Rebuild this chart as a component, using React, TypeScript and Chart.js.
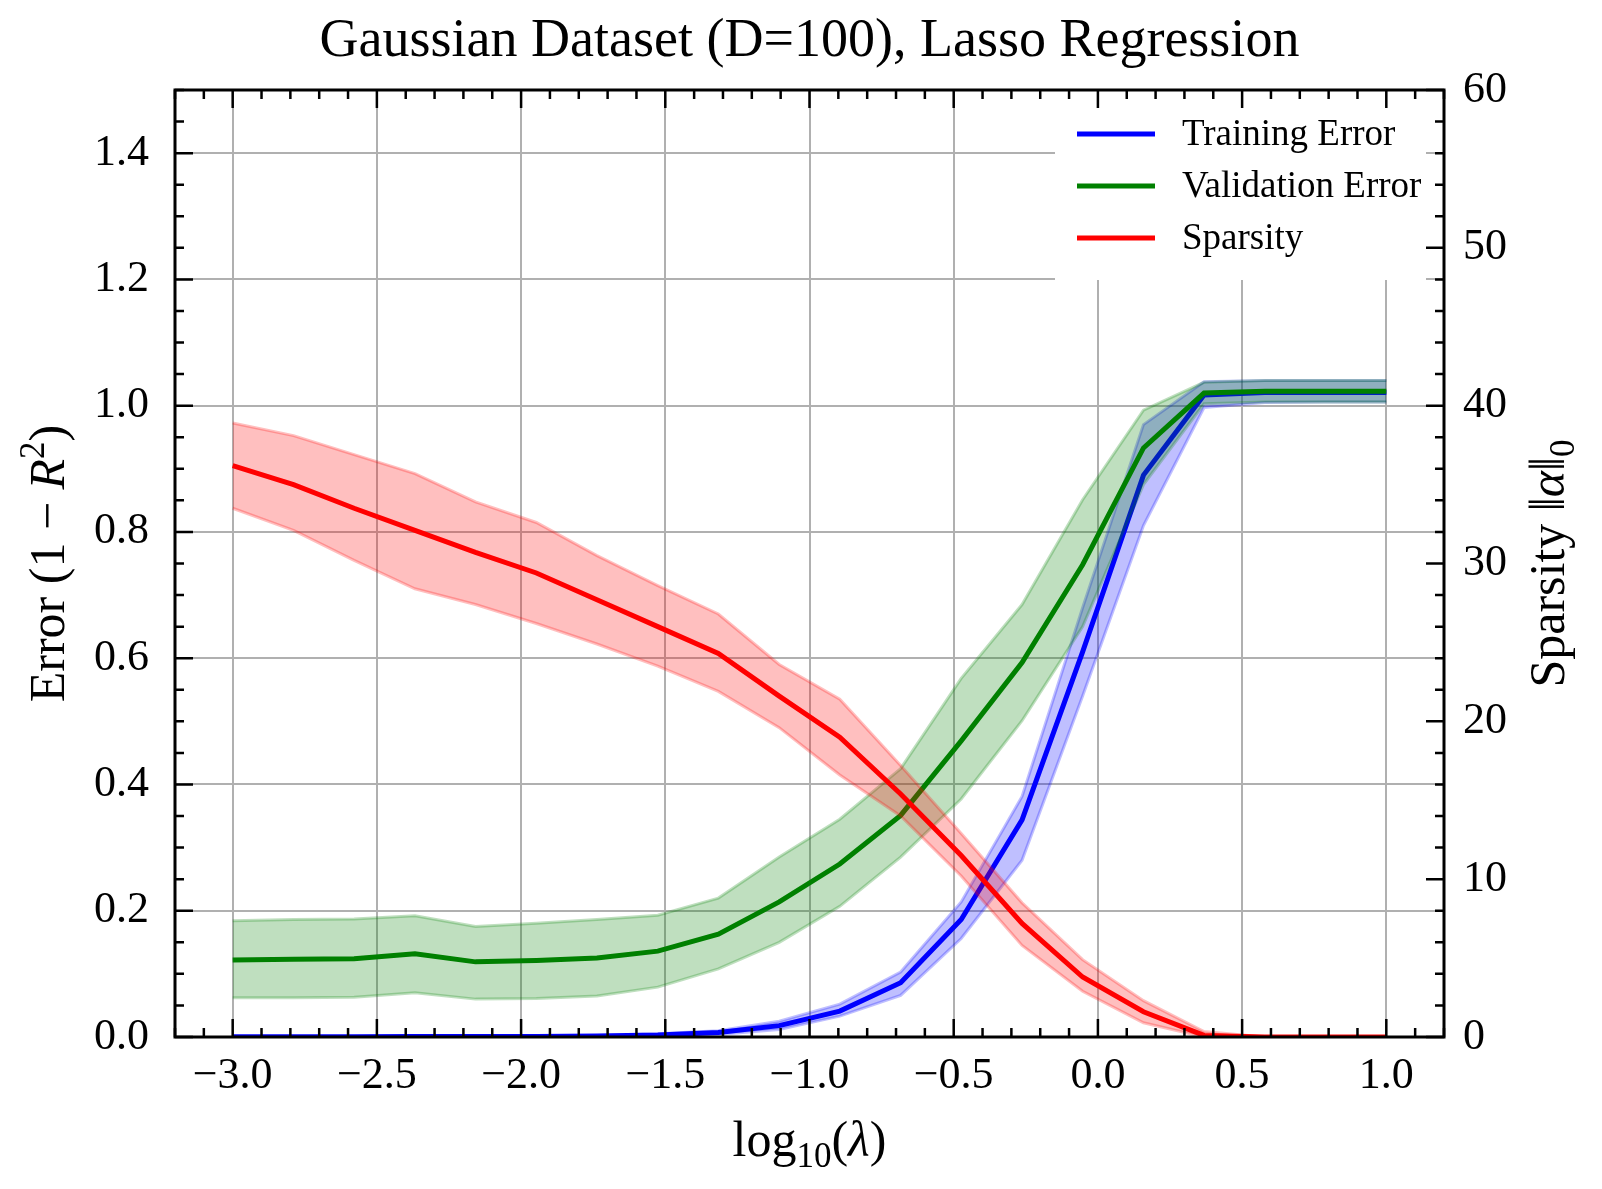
import { useEffect, useRef } from 'react';
import { Chart, ChartConfiguration, registerables } from 'chart.js';

Chart.register(...registerables);

// log10(lambda) grid (20 points)
const logLambda = [
  -3.0, -2.789, -2.579, -2.368, -2.158, -1.947, -1.737, -1.526, -1.316, -1.105,
  -0.895, -0.684, -0.474, -0.263, -0.053, 0.158, 0.368, 0.579, 0.789, 1.0,
];

// Training error (1 - R^2): mean and band
const trainMean = [0.0004, 0.0004, 0.0005, 0.0006, 0.0007, 0.0009, 0.0015, 0.003, 0.007, 0.018, 0.041, 0.086, 0.186, 0.344, 0.61, 0.89, 1.017, 1.021, 1.021, 1.021];
const trainUpper = [0.0008, 0.0008, 0.0009, 0.001, 0.0012, 0.0015, 0.0025, 0.005, 0.01, 0.025, 0.052, 0.103, 0.214, 0.381, 0.68, 0.97, 1.038, 1.04, 1.04, 1.04];
const trainLower = [0.0001, 0.0001, 0.0002, 0.0002, 0.0003, 0.0004, 0.0007, 0.0015, 0.004, 0.012, 0.033, 0.066, 0.156, 0.28, 0.54, 0.81, 0.997, 1.005, 1.006, 1.006];

// Validation error
const valMean = [0.122, 0.123, 0.124, 0.132, 0.119, 0.121, 0.125, 0.136, 0.163, 0.214, 0.274, 0.351, 0.469, 0.593, 0.748, 0.933, 1.02, 1.023, 1.023, 1.023];
const valUpper = [0.184, 0.186, 0.187, 0.192, 0.175, 0.18, 0.186, 0.193, 0.22, 0.285, 0.345, 0.425, 0.568, 0.685, 0.851, 0.993, 1.037, 1.04, 1.04, 1.04];
const valLower = [0.062, 0.062, 0.063, 0.07, 0.06, 0.061, 0.065, 0.079, 0.108, 0.15, 0.207, 0.285, 0.377, 0.501, 0.65, 0.875, 1.003, 1.006, 1.006, 1.006];

// Sparsity ||alpha||_0 (right axis)
const sparsityMean = [36.2, 35.0, 33.5, 32.1, 30.7, 29.4, 27.7, 26.0, 24.3, 21.6, 19.0, 15.4, 11.5, 7.2, 3.8, 1.6, 0.1, 0, 0, 0];
const sparsityUpper = [38.9, 38.1, 36.9, 35.7, 33.9, 32.6, 30.5, 28.6, 26.8, 23.6, 21.4, 17.2, 12.9, 8.5, 4.9, 2.3, 0.35, 0, 0, 0];
const sparsityLower = [33.5, 32.1, 30.2, 28.4, 27.4, 26.2, 24.9, 23.5, 21.9, 19.6, 16.6, 14.0, 10.2, 5.8, 2.9, 0.9, 0, 0, 0, 0];

const legendLabels = ['Training Error', 'Validation Error', 'Sparsity'];
const legendColors = ['#0000ff', '#008000', '#ff0000'];

const SERIF = '"Liberation Serif", "Times New Roman", "DejaVu Serif", serif';

const pts = (ys: number[]) => logLambda.map((x, i) => ({ x, y: ys[i] }));
const fmt = (v: number, d: number) => Number(v).toFixed(d).replace('-', '\u2212');

type Part = { t: string; size: number; italic?: boolean; dy?: number };

function drawRich(ctx: CanvasRenderingContext2D, parts: Part[], x: number, y: number, rot: number) {
  ctx.save();
  ctx.translate(x, y);
  ctx.rotate(rot);
  ctx.textBaseline = 'alphabetic';
  ctx.textAlign = 'left';
  ctx.fillStyle = '#000';
  const fontOf = (p: Part) => `${p.italic ? 'italic ' : ''}${p.size}px ${SERIF}`;
  let total = 0;
  for (const p of parts) {
    ctx.font = fontOf(p);
    total += ctx.measureText(p.t).width;
  }
  let cx = -total / 2;
  for (const p of parts) {
    ctx.font = fontOf(p);
    ctx.fillText(p.t, cx, p.dy || 0);
    cx += ctx.measureText(p.t).width;
  }
  ctx.restore();
}

// frame, inward ticks, axis titles and legend (matplotlib look)
const decorPlugin = {
  id: 'decor',
  afterDatasetsDraw(chart: Chart) {
    const ctx = chart.ctx;
    const { top, right } = chart.chartArea;
    const boxW = 371;
    const boxH = 174;
    const bx = right - 18 - boxW;
    const by = top + 16;
    ctx.save();
    ctx.fillStyle = '#ffffff';
    ctx.fillRect(bx, by, boxW, boxH);
    legendLabels.forEach((label, i) => {
      const ly = by + 28 + i * 52;
      ctx.strokeStyle = legendColors[i];
      ctx.lineWidth = 5;
      ctx.beginPath();
      ctx.moveTo(bx + 22, ly);
      ctx.lineTo(bx + 100, ly);
      ctx.stroke();
      ctx.fillStyle = '#000';
      ctx.font = `37px ${SERIF}`;
      ctx.textBaseline = 'middle';
      ctx.textAlign = 'left';
      ctx.fillText(label, bx + 127, ly + 1);
    });
    ctx.restore();
  },
  afterDraw(chart: Chart) {
    const ctx = chart.ctx;
    const { left, right, top, bottom } = chart.chartArea;
    const xs = chart.scales.x;
    const ys = chart.scales.y;
    const y1 = chart.scales.y1;
    ctx.save();
    ctx.strokeStyle = '#000';
    ctx.lineWidth = 2.5;
    ctx.beginPath();
    for (let k = -32; k <= 12; k++) {
      const px = xs.getPixelForValue(k / 10);
      const len = k % 5 === 0 ? 18 : 9;
      ctx.moveTo(px, bottom);
      ctx.lineTo(px, bottom - len);
      ctx.moveTo(px, top);
      ctx.lineTo(px, top + len);
    }
    for (let k = 0; k <= 30; k++) {
      const py = ys.getPixelForValue(k * 0.05);
      const len = k % 4 === 0 ? 18 : 9;
      ctx.moveTo(left, py);
      ctx.lineTo(left + len, py);
    }
    for (let k = 0; k <= 30; k++) {
      const py = y1.getPixelForValue(k * 2);
      const len = k % 5 === 0 ? 18 : 9;
      ctx.moveTo(right, py);
      ctx.lineTo(right - len, py);
    }
    ctx.stroke();
    ctx.lineWidth = 3;
    ctx.strokeRect(left, top, right - left, bottom - top);
    ctx.restore();

    const midY = (top + bottom) / 2;
    const midX = (left + right) / 2;
    drawRich(ctx, [
      { t: 'Error (1 \u2212 ', size: 50 },
      { t: 'R', size: 50, italic: true },
      { t: '2', size: 35, dy: -20 },
      { t: ')', size: 50 },
    ], 64, midY, -Math.PI / 2);
    drawRich(ctx, [
      { t: 'Sparsity ', size: 50 },
      { t: '\u2016', size: 50 },
      { t: '\u03b1', size: 50, italic: true },
      { t: '\u2016', size: 50 },
      { t: '0', size: 35, dy: 10 },
    ], 1564, midY, -Math.PI / 2);
    drawRich(ctx, [
      { t: 'log', size: 50 },
      { t: '10', size: 35, dy: 11 },
      { t: '(', size: 50 },
      { t: '\u03bb', size: 50, italic: true },
      { t: ')', size: 50 },
    ], midX, 1156, 0);
  },
};

const band = (upper: number[], lower: number[], rgb: string, order: number, yAxisID: string) => [
  {
    data: pts(upper),
    yAxisID,
    borderColor: `rgba(${rgb},0.25)`,
    backgroundColor: `rgba(${rgb},0.25)`,
    borderWidth: 3,
    pointRadius: 0,
    fill: '+1',
    order,
  },
  {
    data: pts(lower),
    yAxisID,
    borderColor: `rgba(${rgb},0.25)`,
    backgroundColor: `rgba(${rgb},0.25)`,
    borderWidth: 3,
    pointRadius: 0,
    fill: false,
    order,
  },
];

const mainLine = (ys: number[], color: string, order: number, yAxisID: string) => ({
  data: pts(ys),
  yAxisID,
  borderColor: color,
  backgroundColor: color,
  borderWidth: 5,
  pointRadius: 0,
  fill: false,
  order,
});

export default function App() {
  const chartRef = useRef<HTMLCanvasElement>(null);
  const chartInstance = useRef<Chart | null>(null);

  useEffect(() => {
    if (!chartRef.current) return;
    if (chartInstance.current) chartInstance.current.destroy();

    const tickFont = { family: SERIF, size: 44 };

    const config: ChartConfiguration = {
      type: 'line',
      data: {
        datasets: [
          ...band(trainUpper, trainLower, '0,0,255', 6, 'y'),
          mainLine(trainMean, '#0000ff', 5, 'y'),
          ...band(valUpper, valLower, '0,128,0', 4, 'y'),
          mainLine(valMean, '#008000', 3, 'y'),
          ...band(sparsityUpper, sparsityLower, '255,0,0', 2, 'y1'),
          mainLine(sparsityMean, '#ff0000', 1, 'y1'),
        ] as any,
      },
      options: {
        responsive: false,
        devicePixelRatio: 1,
        animation: false,
        layout: { padding: 0 },
        plugins: {
          legend: { display: false },
          tooltip: { enabled: false },
          title: {
            display: true,
            fullSize: false,
            text: 'Gaussian Dataset (D=100), Lasso Regression',
            color: '#000',
            font: { family: SERIF, size: 54, weight: 'normal' },
            padding: { top: 9, bottom: 16.2 },
          },
          filler: { propagate: false },
        },
        scales: {
          x: {
            type: 'linear',
            min: -3.2,
            max: 1.2,
            ticks: {
              stepSize: 0.5,
              includeBounds: false,
              color: '#000',
              font: tickFont,
              padding: 13,
              maxRotation: 0,
              callback: (v) => fmt(Number(v), 1),
            },
            grid: { color: '#b0b0b0', lineWidth: 2, drawTicks: false },
            border: { display: false },
            afterFit: (s) => { s.height = 152; },
          },
          y: {
            type: 'linear',
            position: 'left',
            min: 0,
            max: 1.5,
            ticks: {
              stepSize: 0.2,
              includeBounds: false,
              color: '#000',
              font: tickFont,
              padding: 26,
              callback: (v) => fmt(Number(v), 1),
            },
            grid: { color: '#b0b0b0', lineWidth: 2, drawTicks: false },
            border: { display: false },
            afterFit: (s) => { s.width = 175; },
          },
          y1: {
            type: 'linear',
            position: 'right',
            min: 0,
            max: 60,
            ticks: {
              stepSize: 10,
              color: '#000',
              font: tickFont,
              padding: 19,
              callback: (v) => String(v),
            },
            grid: { display: false, drawTicks: false },
            border: { display: false },
            afterFit: (s) => { s.width = 158; },
          },
        },
      },
      plugins: [decorPlugin],
    };

    chartInstance.current = new Chart(chartRef.current, config);

    return () => {
      if (chartInstance.current) {
        chartInstance.current.destroy();
        chartInstance.current = null;
      }
    };
  }, []);

  return (
    <div style={{ position: 'absolute', left: 0, top: 0, width: 1602, height: 1189, background: '#fff' }}>
      <canvas ref={chartRef} width={1602} height={1189} style={{ display: 'block' }}></canvas>
    </div>
  );
}
